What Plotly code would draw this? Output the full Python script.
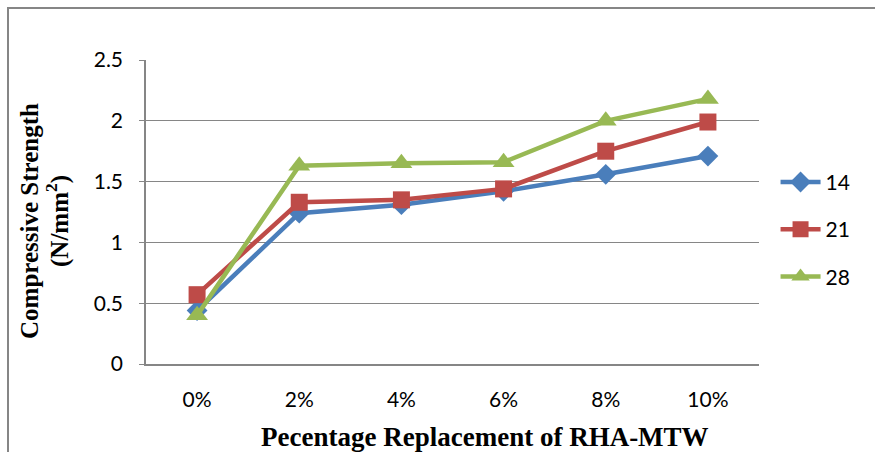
import plotly.graph_objects as go

categories = ["0%", "2%", "4%", "6%", "8%", "10%"]
s14 = [0.44, 1.24, 1.31, 1.42, 1.56, 1.71]
s21 = [0.57, 1.33, 1.35, 1.44, 1.75, 1.99]
s28 = [0.40, 1.63, 1.65, 1.66, 2.00, 2.18]
series_names = ["14", "21", "28"]
y_ticks = [0, 0.5, 1, 1.5, 2, 2.5]
y_tick_text = ["0", "0.5", "1", "1.5", "2", "2.5"]

colors = ["#4A7EBB", "#BE4B48", "#98B954"]
symbols = ["diamond", "square", "triangle-up"]
sizes = [16, 17, 19]

fig = go.Figure()
for i, (name, vals) in enumerate(zip(series_names, [s14, s21, s28])):
    fig.add_trace(go.Scatter(
        x=categories, y=vals, name=name, mode="lines+markers",
        line=dict(color=colors[i], width=4.5),
        marker=dict(symbol=symbols[i], size=sizes[i], color=colors[i]),
        legendgroup=name,
    ))

W, H = 875, 452
ml, mr, mt, mb = 146, 116, 60, 88
pw, ph = W - ml - mr, H - mt - mb
serif = "Liberation Serif, Times New Roman, serif"

fig.update_layout(
    width=W, height=H,
    margin=dict(l=ml, r=mr, t=mt, b=mb),
    paper_bgcolor="white", plot_bgcolor="white",
    font=dict(family="Lato, Open Sans, sans-serif", size=21, color="black"),
    showlegend=True,
    legend=dict(x=1.027, y=0.665, xanchor="left", yanchor="top",
                font=dict(size=21, color="black"), tracegroupgap=17,
                bgcolor="rgba(0,0,0,0)", itemwidth=40),
    xaxis=dict(type="category", showgrid=False, showline=True,
               linecolor="#868686", linewidth=1.5, ticks="",
               tickfont=dict(size=21), range=[-0.5, 5.5],
               ticklabelstandoff=16),
    yaxis=dict(range=[0, 2.5], tickvals=y_ticks, ticktext=y_tick_text,
               showgrid=True, gridcolor="#868686", gridwidth=1.3,
               showline=True, linecolor="#868686", linewidth=1.5,
               ticks="outside", ticklen=5, tickcolor="#868686",
               tickfont=dict(size=21), zeroline=False,
               ticklabelstandoff=12),
)

# Axis titles
fig.add_annotation(text="<b>Pecentage Replacement of RHA-MTW</b>",
                   xref="paper", yref="paper", x=(485 - ml) / pw, y=(364 - 437) / ph,
                   showarrow=False, xanchor="center", yanchor="middle",
                   font=dict(family=serif, size=27))
fig.add_annotation(text="<b>Compressive Strength</b>",
                   xref="paper", yref="paper", x=(29 - ml) / pw, y=(364 - 221) / ph,
                   showarrow=False, textangle=-90, xanchor="center", yanchor="middle",
                   font=dict(family=serif, size=25))
fig.add_annotation(text="<b>(N/mm<sup>2</sup>)</b>",
                   xref="paper", yref="paper", x=(57 - ml) / pw, y=(364 - 221) / ph,
                   showarrow=False, textangle=-90, xanchor="center", yanchor="middle",
                   font=dict(family=serif, size=25))

# Outer chart frame (extends beyond visible area right/bottom)
fig.add_shape(type="rect", xref="paper", yref="paper",
              x0=(8 - ml) / pw, x1=(W + 10 - ml) / pw,
              y0=-(H + 10 - mt - ph) / ph, y1=1 + (mt - 8) / ph,
              line=dict(color="#868686", width=2), fillcolor="rgba(0,0,0,0)",
              layer="below")

fig.write_html("out.html")
